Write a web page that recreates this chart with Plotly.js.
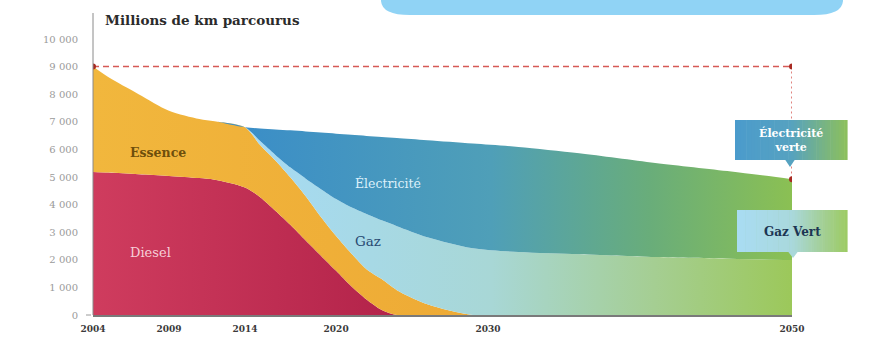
<!DOCTYPE html>
<html>
<head>
<meta charset="utf-8">
<script src="https://cdn.plot.ly/plotly-3.0.1.min.js"></script>
<style>
  html, body { margin: 0; padding: 0; background: #ffffff; }
  #chart { width: 871px; height: 338px; }
</style>
</head>
<body>
<div id="chart"></div>
<script>
// Millions de km parcourus, par énergie (2004 → 2050)
const years    = [2004, 2005, 2007, 2009, 2011, 2012, 2014, 2015, 2016, 2017, 2018, 2019, 2020, 2021, 2022, 2023, 2024, 2026, 2029, 2032, 2036, 2041, 2046, 2050];
const diesel   = [5180, 5160, 5100, 5040, 4960, 4900, 4620, 4270, 3780, 3260, 2700, 2150, 1600, 1040,  560,  180,    0,    0,    0,    0,    0,    0,    0,    0];
const essence  = [3820, 3460, 2900, 2360, 2140, 2120, 2180, 1890, 1820, 1720, 1600, 1400, 1260, 1190, 1100, 1120,  900,  390,    0,    0,    0,    0,    0,    0];
const gaz      = [   0,    0,    0,    0,    0,    0,    0,  140,  200,  360,  640, 1010, 1340, 1670, 2000, 2130, 2320, 2430, 2420, 2280, 2200, 2100, 2040, 1990];
const electric = [   0,    0,    0,    0,    0,    0,    0,  460,  920, 1350, 1710, 2050, 2370, 2630, 2830, 3020, 3190, 3510, 3790, 3810, 3660, 3410, 3160, 2930];

const xTickVals = [2004, 2009, 2014, 2020, 2030, 2050];
const xTickText = ['2004', '2009', '2014', '2020', '2030', '2050'];
const yTickVals = [0, 1000, 2000, 3000, 4000, 5000, 6000, 7000, 8000, 9000, 10000];
const yTickText = ['0', '1 000', '2 000', '3 000', '4 000', '5 000', '6 000', '7 000', '8 000', '9 000', '10 000'];

// running totals for the stacked bands
const cum = (a, b) => a.map((v, i) => v + b[i]);
const c1 = diesel.slice();
const c2 = cum(c1, essence);
const c3 = cum(c2, gaz);
const c4 = cum(c3, electric);

const first = years[0], last = years[years.length - 1];
const startTotal = c4[0], endTotal = c4[c4.length - 1];

const band = (y, fill, grad) => ({
  x: years, y: y, type: 'scatter', mode: 'lines',
  line: { width: 0, shape: 'spline', smoothing: 0.8 },
  fill: fill, fillgradient: grad, hoverinfo: 'skip', showlegend: false
});

const traces = [
  band(c1, 'tozeroy', { type: 'horizontal', start: 2004, stop: 2024,
    colorscale: [[0, '#cf3c5e'], [1, '#b3234a']] }),
  band(c2, 'tonexty', { type: 'horizontal', start: 2004, stop: 2029,
    colorscale: [[0, '#f1b73d'], [1, '#eeaa35']] }),
  band(c3, 'tonexty', { type: 'horizontal', start: 2014, stop: 2050,
    colorscale: [[0, '#a6dbf5'], [0.45, '#a8d7d6'], [0.75, '#a5ce92'], [1, '#9cc85a']] }),
  band(c4, 'tonexty', { type: 'horizontal', start: 2014, stop: 2050,
    colorscale: [[0, '#3b8ec7'], [0.45, '#4f9fb8'], [0.74, '#69ad7a'], [1, '#8bc053']] }),
  // reference level of 2004 carried to 2050
  { x: [first, last], y: [startTotal, startTotal], type: 'scatter', mode: 'lines',
    line: { color: '#d65a55', width: 1.5, dash: '6px,4px' }, hoverinfo: 'skip', showlegend: false },
  { x: [last, last], y: [startTotal, endTotal], type: 'scatter', mode: 'lines',
    line: { color: '#d65a55', width: 1.5, dash: '2px,3px' }, hoverinfo: 'skip', showlegend: false },
  { x: [first, last, last], y: [startTotal, startTotal, endTotal], type: 'scatter', mode: 'markers',
    marker: { color: '#a82a22', size: 6 }, hoverinfo: 'skip', showlegend: false }
];

// ---- layout geometry (pixels) ----
const M = { l: 93, r: 79, t: 39, b: 23 };
const W = 871, H = 338;
const pw = W - M.l - M.r, ph = H - M.t - M.b;
const px = p => (p - M.l) / pw;          // pixel x -> paper x
const py = p => (H - M.b - p) / ph;      // pixel y -> paper y

function hex(c) { return [1, 3, 5].map(i => parseInt(c.substr(i, 2), 16)); }
function mix(stops, t) {
  for (let i = 1; i < stops.length; i++) {
    if (t <= stops[i][0]) {
      const a = stops[i - 1], b = stops[i];
      const f = (t - a[0]) / (b[0] - a[0] || 1);
      const ca = hex(a[1]), cb = hex(b[1]);
      const c = ca.map((v, k) => Math.round(v + (cb[k] - v) * f));
      return 'rgb(' + c.join(',') + ')';
    }
  }
  return stops[stops.length - 1][1];
}

const shapes = [];
// vertical axis line, running up to the title
shapes.push({ type: 'line', xref: 'paper', yref: 'paper', x0: 0, x1: 0, y0: 0, y1: py(13),
  line: { color: '#8a8a8a', width: 1 } });
// small tick next to the zero label
shapes.push({ type: 'line', xref: 'paper', yref: 'paper', x0: px(86), x1: px(91), y0: 0, y1: 0,
  line: { color: '#9a9a9a', width: 1 } });

// banner at the top
shapes.push({ type: 'path', xref: 'paper', yref: 'paper', layer: 'above',
  path: `M ${px(381)} ${py(-2)} L ${px(381)} ${py(1)} Q ${px(382)} ${py(15)} ${px(410)} ${py(15)} ` +
        `L ${px(814)} ${py(15)} Q ${px(842)} ${py(15)} ${px(843)} ${py(1)} L ${px(843)} ${py(-2)} Z`,
  fillcolor: '#90d3f5', line: { width: 0 } });

// gradient tag with a small pointer underneath
function tag(x0, x1, y0, y1, stops, tipX, tipLen) {
  const n = 40, step = (x1 - x0) / n;
  for (let i = 0; i < n; i++) {
    shapes.push({ type: 'rect', xref: 'paper', yref: 'paper', layer: 'above',
      x0: px(x0 + i * step), x1: px(x0 + (i + 1) * step + 0.6), y0: py(y1), y1: py(y0),
      fillcolor: mix(stops, (i + 0.5) / n), line: { width: 0 } });
  }
  const tc = mix(stops, (tipX - x0) / (x1 - x0));
  shapes.push({ type: 'path', xref: 'paper', yref: 'paper', layer: 'above',
    path: `M ${px(tipX - 5)} ${py(y1 - 0.5)} L ${px(tipX + 5)} ${py(y1 - 0.5)} L ${px(tipX)} ${py(y1 + tipLen)} Z`,
    fillcolor: tc, line: { width: 0 } });
}
tag(735, 847, 120, 160, [[0, '#4b9bcc'], [0.5, '#56a2c0'], [0.78, '#76b386'], [1, '#8cc05c']], 790, 7);
tag(737, 847, 210, 252, [[0, '#a9dcf3'], [0.5, '#a9d8dc'], [0.78, '#a3cf96'], [1, '#9dcb63']], 793, 6);

const serif = 'DejaVu Serif, Liberation Serif, serif';
const annotations = [
  { text: 'Millions de km parcourus', xref: 'paper', yref: 'paper', x: px(103), y: py(20),
    xanchor: 'left', yanchor: 'middle', showarrow: false,
    font: { family: serif, size: 13.5, color: '#2b2b2b', weight: 'bold' } },
  { text: 'Essence', x: 2006.3, y: 5870, xanchor: 'left', showarrow: false,
    font: { family: serif, size: 12.5, color: '#6e4f0c', weight: 'bold' } },
  { text: 'Diesel', x: 2006.3, y: 2280, xanchor: 'left', showarrow: false,
    font: { family: serif, size: 13, color: '#f6cfd8' } },
  { text: 'Électricité', x: 2021.1, y: 4750, xanchor: 'left', showarrow: false,
    font: { family: serif, size: 12.5, color: '#dcf0fa' } },
  { text: 'Gaz', x: 2021.1, y: 2680, xanchor: 'left', showarrow: false,
    font: { family: serif, size: 13.5, color: '#274a72' } },
  { text: 'Électricité<br>verte', xref: 'paper', yref: 'paper', x: px(791), y: py(140),
    xanchor: 'center', yanchor: 'middle', showarrow: false,
    font: { family: serif, size: 11, color: '#ffffff', weight: 'bold' } },
  { text: 'Gaz Vert', xref: 'paper', yref: 'paper', x: px(792), y: py(232),
    xanchor: 'center', yanchor: 'middle', showarrow: false,
    font: { family: serif, size: 12, color: '#1c3553', weight: 'bold' } }
];

const layout = {
  width: W, height: H,
  margin: M,
  paper_bgcolor: '#ffffff', plot_bgcolor: '#ffffff',
  showlegend: false,
  xaxis: {
    range: [first, last], tickvals: xTickVals, ticktext: xTickText,
    showgrid: false, zeroline: false, showline: true, linecolor: '#7a7a7a', linewidth: 1.5,
    ticks: '', ticklabelstandoff: 5,
    tickfont: { family: serif, size: 9, color: '#3a3a3a', weight: 'bold' },
    fixedrange: true
  },
  yaxis: {
    range: [0, 10000], tickvals: yTickVals, ticktext: yTickText,
    showgrid: false, zeroline: false, showline: false,
    ticks: '', ticklabelstandoff: 14,
    tickfont: { family: serif, size: 10, color: '#9a9a9a' },
    fixedrange: true
  },
  shapes: shapes,
  annotations: annotations
};

Plotly.newPlot('chart', traces, layout, { staticPlot: true, displayModeBar: false });
</script>
</body>
</html>
